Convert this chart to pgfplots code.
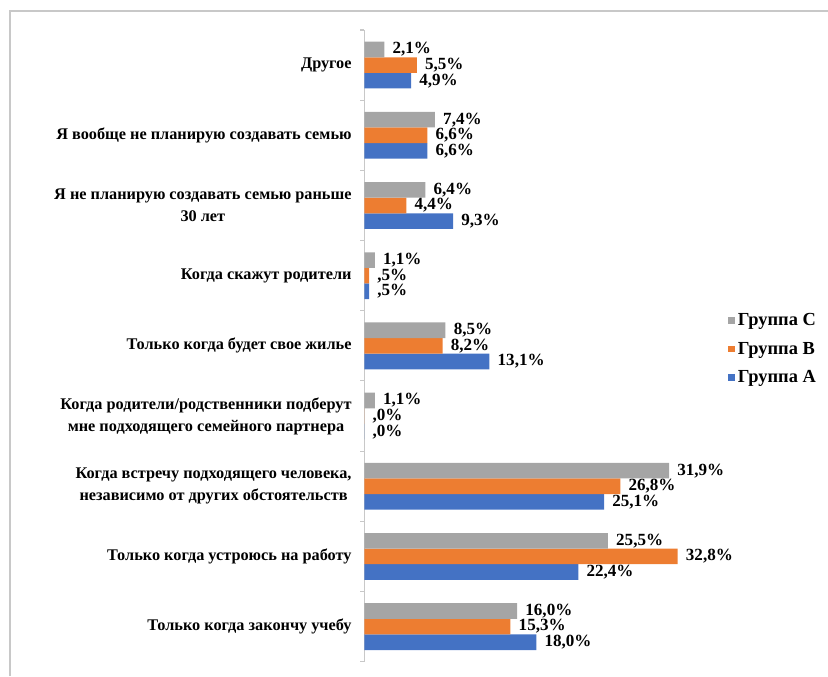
\documentclass[border=0pt]{standalone}
\usepackage{fontspec}
\setmainfont{Liberation Serif}
\usepackage{pgfplots}
\pgfplotsset{compat=1.18}
\usepackage{pgfplotstable}

\definecolor{cC}{RGB}{165,165,165}
\definecolor{cB}{RGB}{237,125,49}
\definecolor{cA}{RGB}{68,114,196}
\definecolor{frame}{RGB}{200,200,200}

\pgfplotstableread{
y x lab
8 4.9 4,9
7 6.6 6,6
6 9.3 9,3
5 0.5 ,5
4 13.1 13,1
3 0.0 ,0
2 25.1 25,1
1 22.4 22,4
0 18.0 18,0
}\dataA
\pgfplotstableread{
y x lab
8 5.5 5,5
7 6.6 6,6
6 4.4 4,4
5 0.5 ,5
4 8.2 8,2
3 0.0 ,0
2 26.8 26,8
1 32.8 32,8
0 15.3 15,3
}\dataB
\pgfplotstableread{
y x lab
8 2.1 2,1
7 7.4 7,4
6 6.4 6,4
5 1.1 1,1
4 8.5 8,5
3 1.1 1,1
2 31.9 31,9
1 25.5 25,5
0 16.0 16,0
}\dataC

\begin{document}
\begin{tikzpicture}
\useasboundingbox (0,0) rectangle (621pt,507pt);
\draw[frame, line width=0.8pt] (7.5pt,0pt) |- (621pt,498.75pt);
\begin{axis}[
  at={(273.2pt,10.7pt)}, anchor=south west,
  scale only axis, width=258pt, height=473.8pt,
  xbar=0pt, bar width=11.7pt,
  xmin=0, xmax=36, ymin=-0.5, ymax=8.5,
  axis x line=none, axis y line=left,
  axis line style={-, draw=frame, line width=0.8pt},
  ytick={0,...,8},
  yticklabels={
    {Только когда закончу учебу},
    {Только когда устроюсь на работу},
    {Когда встречу подходящего человека,\\независимо от других обстоятельств},
    {Когда родители/родственники подберут\\мне подходящего семейного партнера},
    {Только когда будет свое жилье},
    {Когда скажут родители},
    {Я не планирую создавать семью раньше\\30 лет},
    {Я вообще не планирую создавать семью},
    {Другое}},
  major tick length=0pt,
  minor ytick={-0.5,0.5,...,8.5},
  minor tick length=3pt,
  tick align=outside,
  minor tick style={draw=frame, line width=0.8pt},
  yticklabel style={font=\fontsize{12.2}{16.5}\selectfont\bfseries, align=center, xshift=-6pt},
  point meta=explicit symbolic,
  nodes near coords={\pgfplotspointmeta\%},
  nodes near coords style={font=\fontsize{12.8}{13}\selectfont\bfseries, anchor=west, inner sep=0pt, xshift=6pt},
  legend style={at={(1.058,0.495)}, anchor=west, draw=none, fill=none,
    font=\fontsize{13.8}{14}\selectfont\bfseries, row sep=7pt, inner sep=0pt},
  legend cell align=left,
  reverse legend,
  legend image code/.code={\fill[#1] (0pt,-2.5pt) rectangle (5pt,2.5pt);},
]
\addplot[fill=cA, draw=none] table[x=x, y=y, meta=lab] {\dataA};
\addlegendentry{Группа A}
\addplot[fill=cB, draw=none] table[x=x, y=y, meta=lab] {\dataB};
\addlegendentry{Группа B}
\addplot[fill=cC, draw=none] table[x=x, y=y, meta=lab] {\dataC};
\addlegendentry{Группа C}
\end{axis}
\end{tikzpicture}
\end{document}
